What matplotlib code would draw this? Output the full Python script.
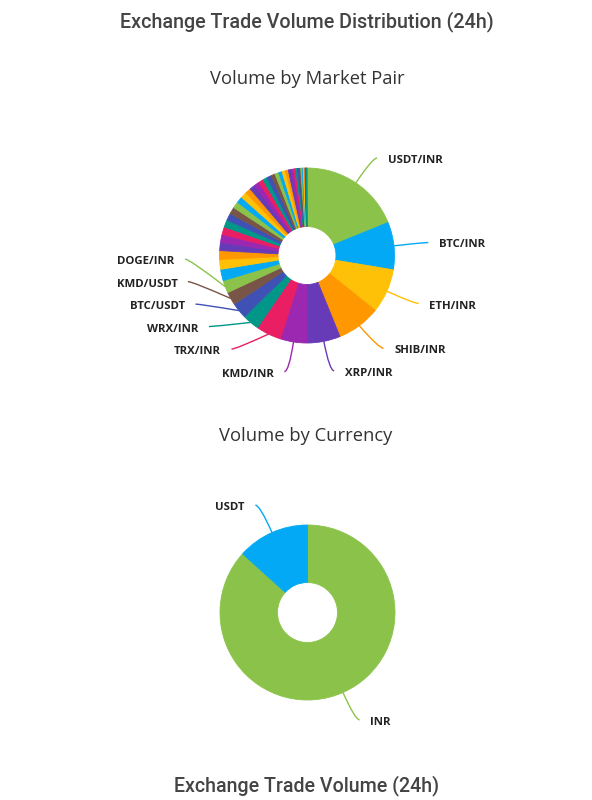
import numpy as np
import matplotlib
matplotlib.use("Agg")
import matplotlib.pyplot as plt
from matplotlib.path import Path
from matplotlib.patches import PathPatch

# Volume share by market pair (%), largest first, clockwise from 12 o'clock
pair_names = ["USDT/INR", "BTC/INR", "ETH/INR", "SHIB/INR", "XRP/INR", "KMD/INR",
              "TRX/INR", "WRX/INR", "BTC/USDT", "KMD/USDT", "DOGE/INR"]
pair_volumes = [18.7, 8.7, 8.1, 8.0, 6.1, 4.9, 4.6, 3.1, 2.9, 2.4, 2.3]
# the many small pairs that get no label
other_pair_volumes = [2.1, 1.8, 1.6, 1.5, 1.45, 1.4, 1.35, 1.3, 1.25, 1.2, 1.15,
                      1.1, 1.05, 1.0, 0.95, 0.9, 0.85, 0.8, 0.75, 0.7, 0.65, 0.6,
                      0.55, 0.5, 0.45, 0.4, 0.35, 0.3, 0.27, 0.24, 0.21, 0.18,
                      0.15, 0.12, 0.1, 0.08, 0.06]

# Volume share by currency (%)
currency_names = ["INR", "USDT"]
currency_volumes = [86.7, 13.3]

palette = ["#8BC34A", "#03A9F4", "#FFC107", "#FF9800", "#673AB7",
           "#9C27B0", "#E91E63", "#009688", "#3F51B5", "#795548"]

W, H = 592, 800
fig = plt.figure(figsize=(W / 100, H / 100), dpi=100)
ax = fig.add_axes([0, 0, 1, 1])

LEN1 = 30     # radial part of the label line
LEN2 = 4.5    # horizontal part
GAP = 22.5    # min vertical distance between labels on one side


def draw_donut(values, names, cx, cy, r_out, r_in):
    colors = [palette[i % len(palette)] for i in range(len(values))]
    wedges, _ = ax.pie(values, colors=colors, startangle=90, counterclock=False,
                       center=(cx, cy), radius=r_out,
                       wedgeprops=dict(width=r_out - r_in, linewidth=0.6))
    for w in wedges:
        w.set_edgecolor(w.get_facecolor())

    # label anchors for the named slices
    labels = []
    for i, name in enumerate(names):
        w = wedges[i]
        mid = np.deg2rad((w.theta1 + w.theta2) / 2)
        c, s = np.cos(mid), np.sin(mid)
        p0 = (cx + r_out * c, cy + r_out * s)
        elbow = [cx + (r_out + LEN1) * c, cy + (r_out + LEN1) * s]
        labels.append(dict(name=name, color=colors[i], p0=p0, elbow=elbow,
                           side=1 if c >= 0 else -1))

    # push overlapping labels upwards, keeping the lowest one in place
    R2 = r_out + LEN1
    for side in (1, -1):
        group = sorted([l for l in labels if l["side"] == side], key=lambda l: l["elbow"][1])
        for k in range(1, len(group)):
            if group[k]["elbow"][1] < group[k - 1]["elbow"][1] + GAP:
                y = group[k - 1]["elbow"][1] + GAP
                dy = y - cy
                if abs(dy) < R2:
                    group[k]["elbow"][0] = cx + side * np.sqrt(R2 ** 2 - dy ** 2)
                group[k]["elbow"][1] = y

    for l in labels:
        ex, ey = l["elbow"]
        end = (ex + l["side"] * LEN2, ey)
        path = Path([l["p0"], (ex, ey), end], [Path.MOVETO, Path.CURVE3, Path.CURVE3])
        ax.add_patch(PathPatch(path, fill=False, edgecolor=l["color"], lw=1))
        ax.text(end[0] + l["side"] * 10.5, ey - 2.5, l["name"],
                ha="left" if l["side"] > 0 else "right", va="center",
                fontsize=8.2, fontweight="bold", color="#222222", family="Open Sans")


draw_donut(pair_volumes + other_pair_volumes, pair_names, 307, H - 255.5, 87.5, 29)
draw_donut(currency_volumes, currency_names, 307.5, H - 612.5, 87.5, 30)

ax.text(W / 2 + 10.5, H - 22, "Exchange Trade Volume Distribution (24h)", ha="center",
        va="center", fontsize=14.2, fontweight="medium", color="#444444", family="Roboto")
ax.text(W / 2 + 11.5, H - 79, "Volume by Market Pair", ha="center", va="center",
        fontsize=13.2, color="#333333", family="Open Sans")
ax.text(W / 2 + 10, H - 436, "Volume by Currency", ha="center", va="center",
        fontsize=13.2, color="#333333", family="Open Sans")
ax.text(W / 2 + 10.5, H - 786, "Exchange Trade Volume (24h)", ha="center",
        va="center", fontsize=14.1, fontweight="medium", color="#444444", family="Roboto")

ax.set_xlim(0, W)
ax.set_ylim(0, H)
ax.set_aspect("equal")
ax.axis("off")

fig.savefig("out.png", dpi=100)
